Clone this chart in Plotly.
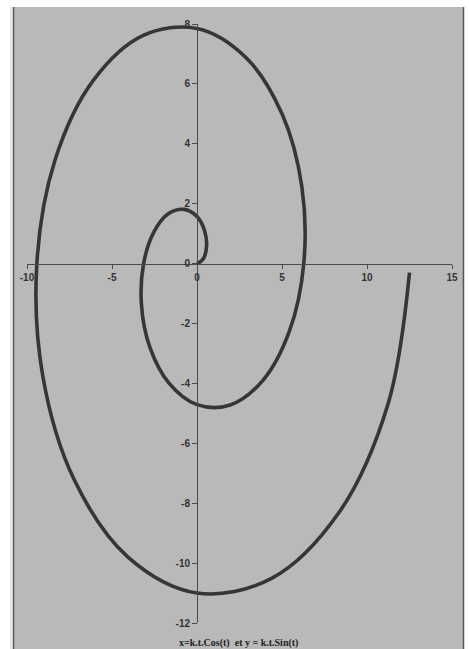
import plotly.graph_objects as go

# points of the spiral (x = k.t.cos t, y = k.t.sin t)
spiral_x = [0.0, 0.36, 0.56, 0.45, 0.0, -0.75, -1.67, -2.54, -3.14, -3.27, -2.78,
            -1.65, 0.0, 1.95, 3.89, 5.44, 6.28, 6.17, 5.0, 2.86, 0.0, -3.16,
            -6.11, -8.35, -9.42, -9.07, -7.22, -4.06, 0.0, 4.36, 8.33, 11.25, 12.5]
spiral_y = [0.0, 0.15, 0.56, 1.09, 1.57, 1.81, 1.67, 1.05, 0.0, -1.35, -2.78,
            -3.99, -4.71, -4.72, -3.89, -2.25, 0.0, 2.56, 5.0, 6.89, 7.85, 7.62,
            6.11, 3.46, 0.0, -3.76, -7.22, -9.8, -11.0, -10.52, -8.33, -4.66, -0.3]

x_ticks = [-10, -5, 0, 5, 10, 15]
y_ticks = [-12, -10, -8, -6, -4, -2, 0, 2, 4, 6, 8]
caption = "x=k.t.Cos(t)  et y = k.t.Sin(t)"

W, H = 469, 649
L, R, T, B = 27, 17, 24, 26
pw, ph = W - L - R, H - T - B


def px(x):
    return (x - L) / pw


def py(y):
    return (H - B - y) / ph


bg = "#b9b9b9"
ink = "#363636"
tick_font = dict(family="Liberation Sans, Arial", size=10, color="#333333", weight="bold")

fig = go.Figure()
fig.add_trace(go.Scatter(x=spiral_x, y=spiral_y, mode="lines",
                         line=dict(color=ink, width=3.6, shape="spline", smoothing=1.0),
                         hoverinfo="skip", showlegend=False))

fig.update_layout(
    width=W, height=H,
    margin=dict(l=L, r=R, t=T, b=B),
    paper_bgcolor="white", plot_bgcolor="rgba(0,0,0,0)",
    xaxis=dict(range=[-10, 15], anchor="free", position=12 / 20,
               showgrid=False, zeroline=False, showline=True, linecolor="#4a4a4a", linewidth=1,
               ticks="outside", ticklen=4, tickcolor="#4a4a4a",
               tickvals=x_ticks, ticktext=[str(v) for v in x_ticks], tickfont=tick_font),
    yaxis=dict(range=[-12, 8], anchor="free", position=10 / 25,
               showgrid=False, zeroline=False, showline=True, linecolor="#4a4a4a", linewidth=1,
               ticks="outside", ticklen=5, tickcolor="#4a4a4a",
               tickvals=y_ticks, ticktext=[str(v) for v in y_ticks], tickfont=tick_font),
    shapes=[
        dict(type="rect", xref="paper", yref="paper", layer="below",
             x0=px(14), x1=px(463), y0=py(H + 2), y1=py(7),
             fillcolor=bg, line=dict(width=0)),
        dict(type="line", xref="paper", yref="paper", x0=px(13.5), x1=px(13.5),
             y0=py(H + 2), y1=py(7), line=dict(color="#555555", width=1.5)),
        dict(type="line", xref="paper", yref="paper", x0=px(11), x1=px(11),
             y0=py(H + 2), y1=py(7), line=dict(color="#cfcfcf", width=1)),
        dict(type="line", xref="paper", yref="paper", x0=px(463.5), x1=px(463.5),
             y0=py(H + 2), y1=py(7), line=dict(color="#555555", width=1.5)),
    ],
    annotations=[
        dict(text=caption, xref="paper", yref="paper", x=px(238), y=py(643),
             showarrow=False, xanchor="center", yanchor="middle",
             font=dict(family="Liberation Serif, Times New Roman", size=10,
                       color="#222222", weight="bold")),
    ],
)

# the page's default body margin would push the chart 8px off the window
fig.write_html("out.html", config={"displayModeBar": False},
               post_script="document.body.style.margin = '0';")
